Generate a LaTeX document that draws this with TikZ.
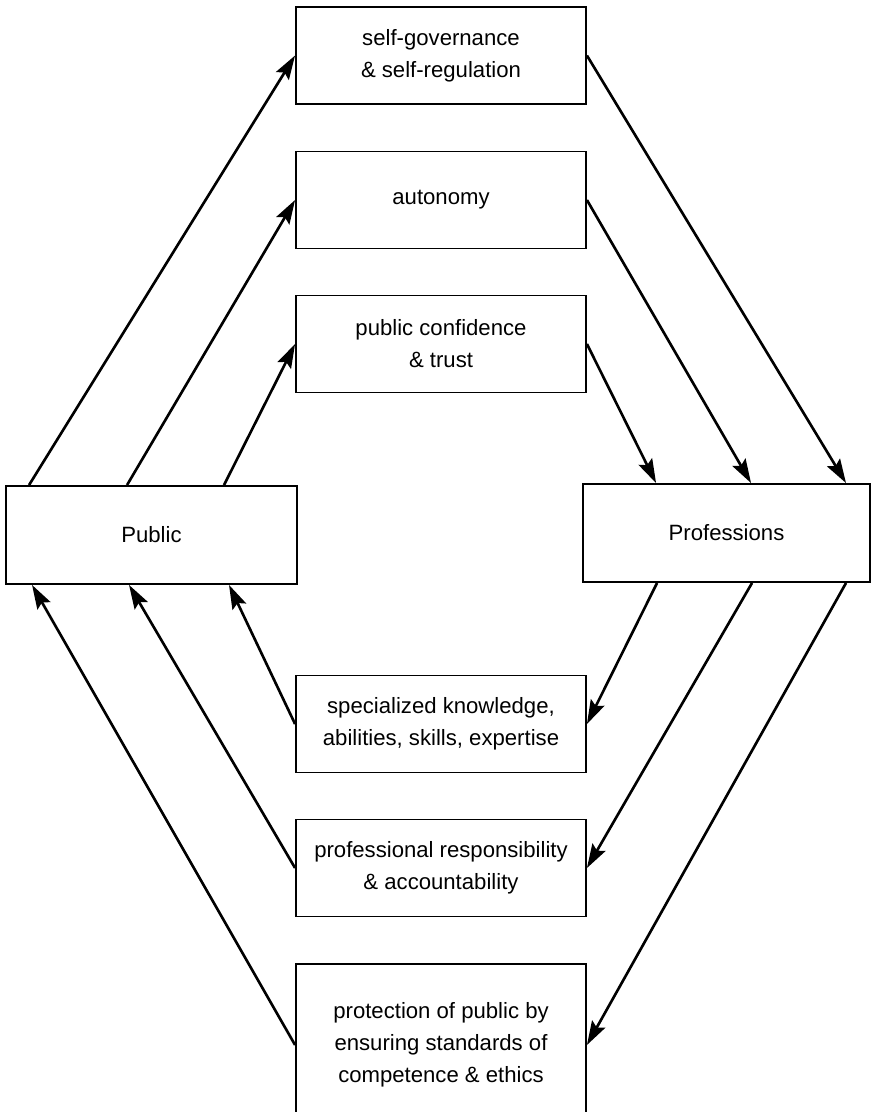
\documentclass[tikz,border=0pt]{standalone}
\usepackage{fontspec}
\setmainfont{Liberation Sans}
\usetikzlibrary{arrows.meta}

\begin{document}
\begin{tikzpicture}[
  x=0.02cm,
  y=-0.02cm,
  >={Stealth[length=4.8mm,width=3mm,inset=0.8mm]},
  every node/.style={font=\fontsize{12.6}{18.2}\selectfont},
  item/.style={draw, line width=1.1pt, rectangle, minimum width=5.8cm, minimum height=1.94cm, align=center},
  side/.style={draw, line width=1.1pt, rectangle, minimum width=5.82cm, minimum height=1.96cm, align=center},
  link/.style={->, line width=1.5pt}
]
\clip (0,0) rectangle (871,1112);
\node[item] (gov) at (441,55.5) {self-governance\\\& self-regulation};
\node[item] (auto) at (441,200) {autonomy};
\node[item] (conf) at (441,344) {public confidence\\\& trust};
\node[side] (pub) at (151.5,535) {Public};
\node[side, minimum width=5.74cm] (prof) at (726.5,533) {Professions};
\node[item] (know) at (441,724) {specialized knowledge,\\abilities, skills, expertise};
\node[item] (resp) at (441,868) {professional responsibility\\\& accountability};
\node[item, minimum height=3.24cm] (prot) at (441,1045) {protection of public by\\ensuring standards of\\competence \& ethics};

\draw[link] ([xshift=0.48cm]pub.north west) -- (gov.west);
\draw[link] ([xshift=2.44cm]pub.north west) -- (auto.west);
\draw[link] ([xshift=4.38cm]pub.north west) -- (conf.west);
\draw[link] (know.west) -- ([xshift=4.48cm]pub.south west);
\draw[link] (resp.west) -- ([xshift=2.48cm]pub.south west);
\draw[link] (prot.west) -- ([xshift=0.54cm]pub.south west);

\draw[link] (gov.east) -- ([xshift=5.28cm]prof.north west);
\draw[link] (auto.east) -- ([xshift=3.38cm]prof.north west);
\draw[link] (conf.east) -- ([xshift=1.48cm]prof.north west);
\draw[link] ([xshift=1.5cm]prof.south west) -- (know.east);
\draw[link] ([xshift=3.4cm]prof.south west) -- (resp.east);
\draw[link] ([xshift=5.28cm]prof.south west) -- (prot.east);
\end{tikzpicture}
\end{document}
